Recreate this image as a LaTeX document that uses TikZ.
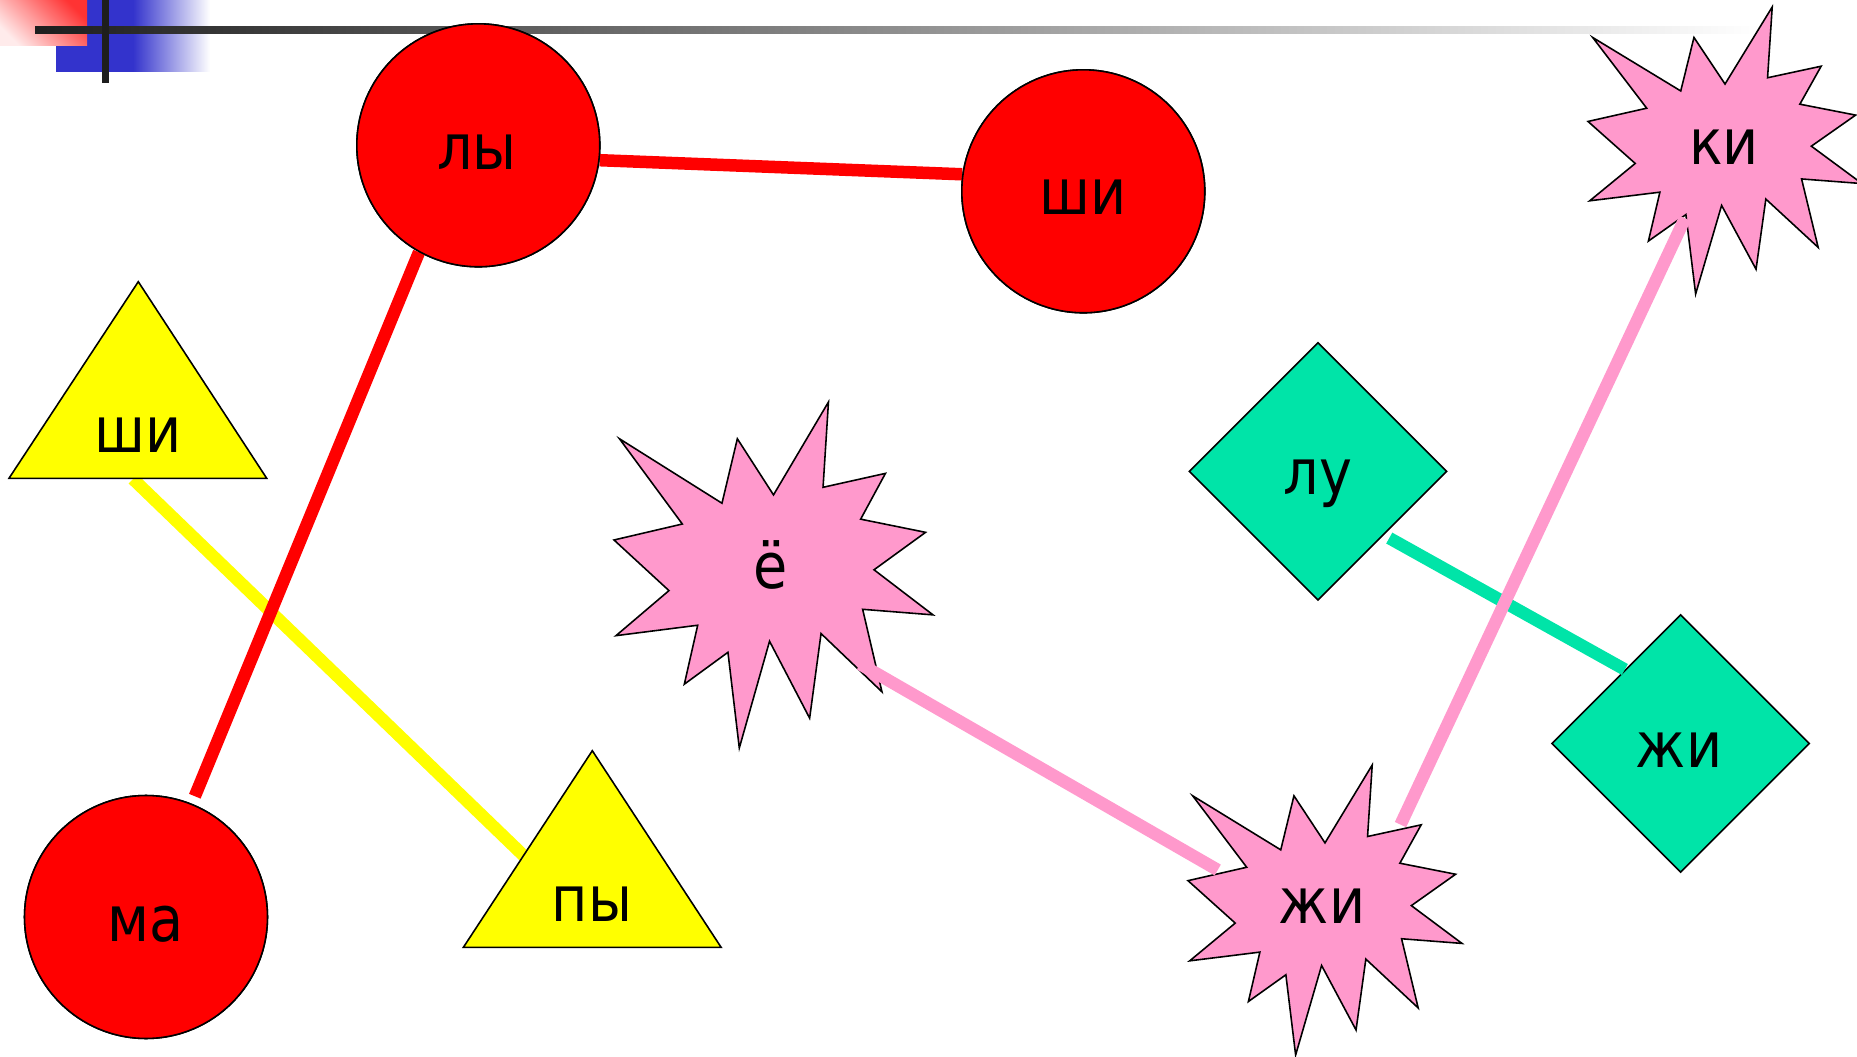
\documentclass[tikz,border=0pt]{standalone}
\usepackage{fontspec}
\setmainfont{DejaVu Sans}[FakeStretch=0.88]
\usetikzlibrary{shapes.geometric}
\definecolor{pinkc}{RGB}{255,153,204}
\definecolor{greenc}{RGB}{0,228,168}
\definecolor{bluec}{RGB}{51,51,204}
\definecolor{barc}{RGB}{30,30,30}
\definecolor{redc}{RGB}{255,0,0}
\definecolor{yellowc}{RGB}{255,255,0}
\tikzset{
  outl/.style={draw=black, line width=0.9pt},
  circ/.style={circle, outl, fill=redc, inner sep=0pt, minimum size=4.86cm},
  diam/.style={diamond, outl, fill=greenc, inner sep=0pt, aspect=1, minimum width=5.16cm, minimum height=5.16cm},
  tri/.style={outl, fill=yellowc},
  burst/.style={outl, fill=pinkc, line join=miter},
  lbl/.style={font=\fontsize{36}{40}\selectfont, inner sep=0pt, anchor=base, text=black},
  conn/.style={line width=0.25cm},
}
\newcommand\burstshape{\path[burst] (0.5,0.26852) -- (0.67231,0) -- (0.65532,0.24653) -- (0.85093,0.20634) -- (0.77324,0.33866) -- (0.97671,0.37671) -- (0.81514,0.48495) -- (1,0.61528) -- (0.77949,0.59917) -- (0.84005,0.83773) -- (0.64907,0.66931) -- (0.61329,0.91375) -- (0.48759,0.69144) -- (0.39282,1) -- (0.35718,0.72347) -- (0.22046,0.81560) -- (0.26236,0.64523) -- (0.00625,0.67532) -- (0.17231,0.54514) -- (0,0.39884) -- (0.21421,0.35264) -- (0.01713,0.10625) -- (0.33852,0.29259) -- (0.38667,0.10625) -- cycle;}
\begin{document}
\begin{tikzpicture}[x=0.02cm, y=-0.02cm]
\useasboundingbox (0,0) rectangle (1857,1057);
% decoration in the top-left corner
\fill[bluec] (56,0) rectangle (133,72);
\shade[left color=bluec, right color=white] (133,0) rectangle (210,72);
\shade[top color=redc!80!white, bottom color=redc!8!white, shading angle=-45] (0,0) rectangle (87,46);
\shade[left color=barc, right color=white] (35,27) rectangle (1760,34);
\fill[barc] (102,0) rectangle (109,83);

% connectors drawn below the shapes
\coordinate (triA) at (133,479);
\coordinate (pyL) at (524,856);
\draw[conn, yellowc] (triA) -- (pyL);

% circles
\node[circ] (ly) at (478.3,145.3) {};
\node[circ] (shiC) at (1083.3,191.3) {};
\node[circ] (ma) at (146,917) {};
\draw[conn, redc] (ly.-7.6) -- (shiC.172.8);
\draw[conn, redc, shorten >=0.16cm] (ly.-119.6) -- (ma.68.8);
\node[circ] at (ly) {};
\node[circ] at (shiC) {};
\node[circ] at (ma) {};

% triangles
\path[tri] (138.3,281.7) -- (266.7,478.3) -- (9,478.3) -- cycle;
\path[tri] (592.3,750.7) -- (721.1,947.3) -- (463.4,947.3) -- cycle;

% diamonds
\node[diam] (lu) at (1318,471.4) {};
\node[diam] (zhD) at (1680.6,743.5) {};
\draw[conn, greenc, shorten <=0.12cm] (lu.-44.8) -- (zhD.127.5);

% bursts
\begin{scope}[shift={(614,402)}, xscale=319, yscale=346]
\burstshape
\end{scope}
\begin{scope}[shift={(1188,765)}, xscale=274, yscale=290]
\burstshape
\end{scope}
\begin{scope}[shift={(1588,7)}, xscale=274, yscale=287]
\burstshape
\end{scope}

% pink connectors on top of the bursts
\coordinate (yoE) at (860,664);
\coordinate (zhW) at (1217.7,870);
\coordinate (zhN) at (1400.5,824.6);
\coordinate (kiS) at (1685,218.3);
\draw[conn, pinkc] (yoE) -- (zhW);
\draw[conn, pinkc] (zhN) -- (kiS);

% labels
\node[lbl] (tLy) at (477,170) {лы};
\node[lbl] (tShiC) at (1083,215) {ши};
\node[lbl] (tMa) at (146,941) {ма};
\node[lbl] (tShiT) at (138.5,452.7) {ши};
\node[lbl] (tPy) at (592,921.7) {пы};
\node[lbl] (tLu) at (1318,495) {лу};
\node[lbl] (tZhD) at (1679,767.5) {жи};
\node[lbl] (tYo) at (771,588) {ё};
\node[lbl] (tZhS) at (1322,923.3) {жи};
\node[lbl] (tKi) at (1724,165) {ки};
\end{tikzpicture}
\end{document}
